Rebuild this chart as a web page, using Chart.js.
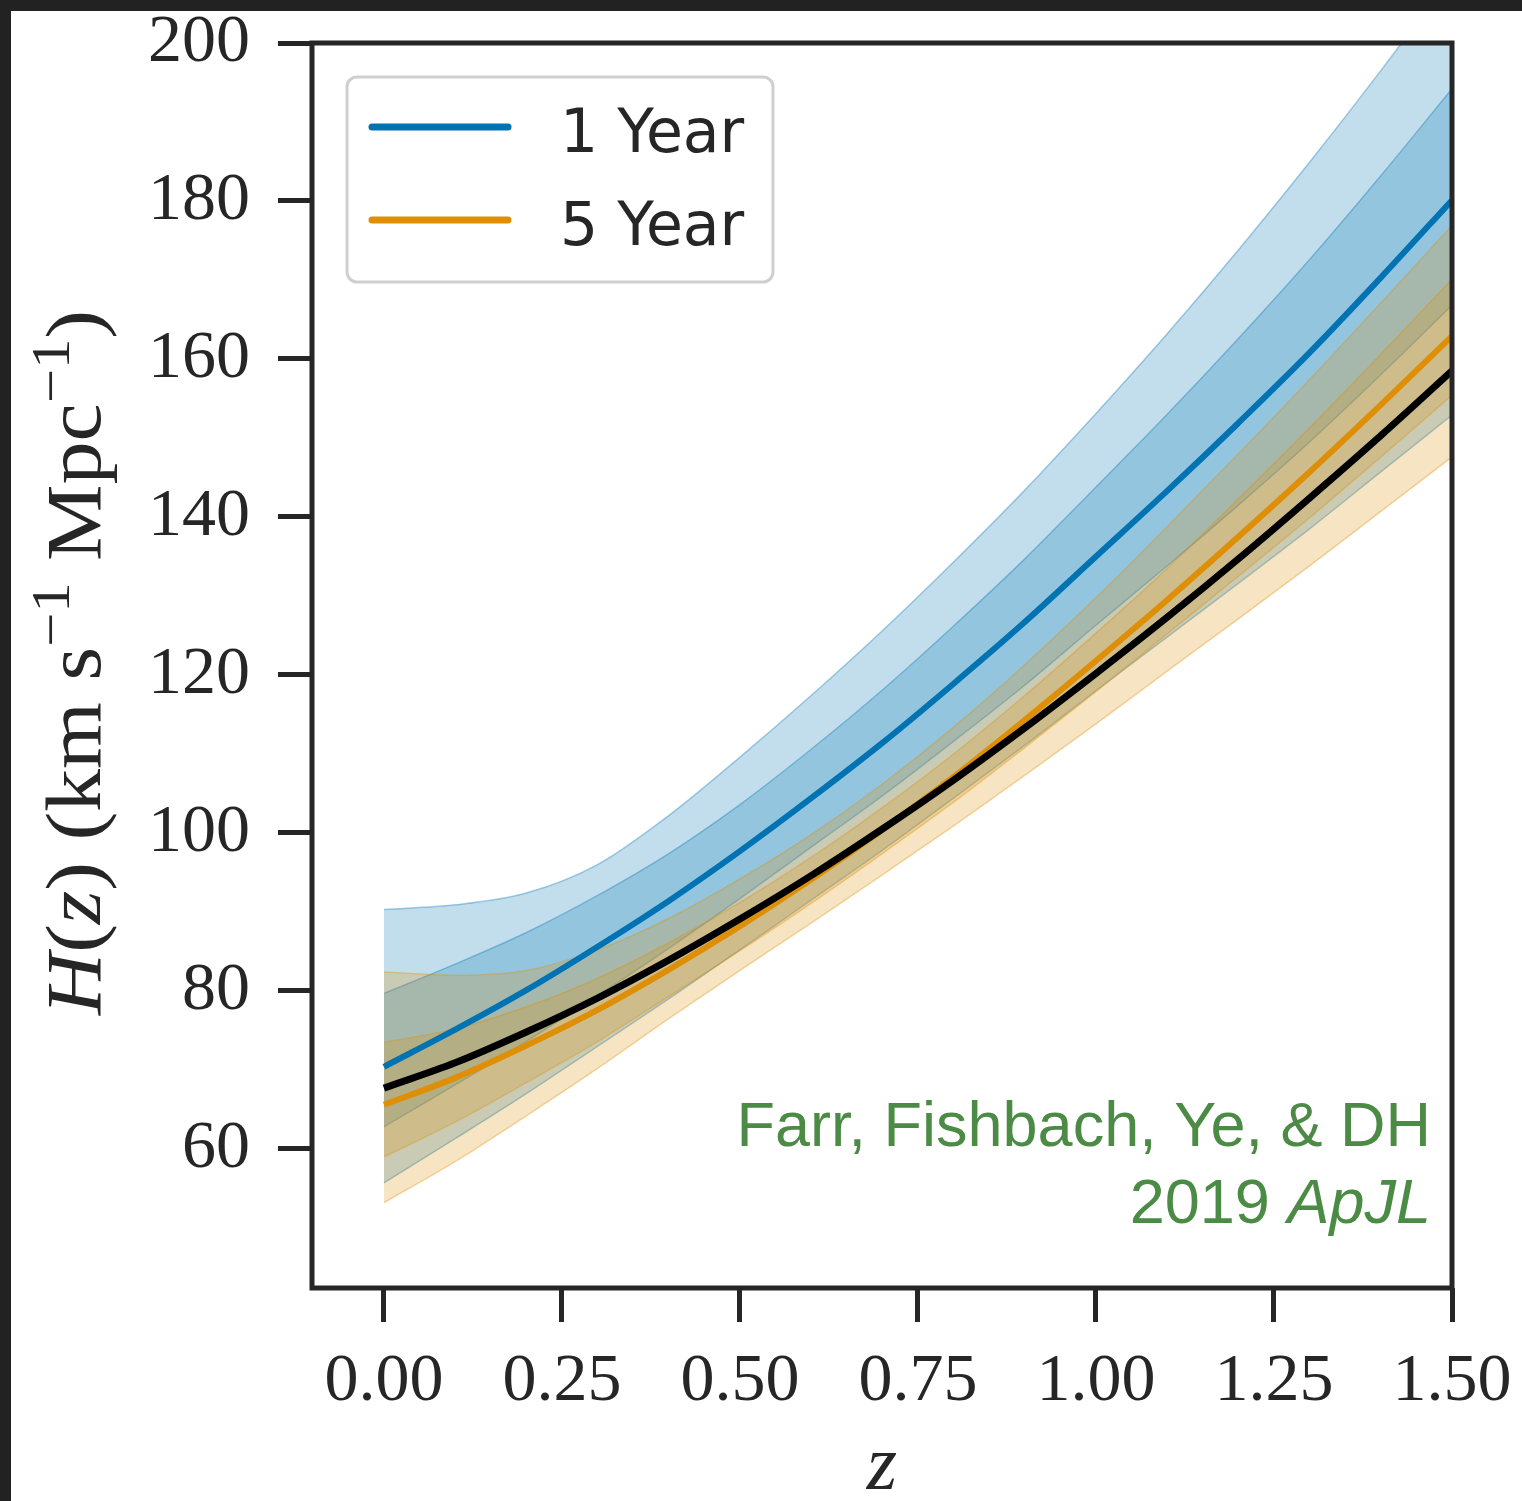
<!DOCTYPE html>
<html>
<head>
<meta charset="utf-8">
<title>H(z) forecast</title>
<script src="https://cdn.jsdelivr.net/npm/chart.js@4.4.1/dist/chart.umd.min.js"></script>
<style>
  html, body { margin: 0; padding: 0; background: #222; }
  #wrap { position: absolute; left: 11px; top: 11px; width: 1511px; height: 1490px; background: #fff; }
  canvas { display: block; }
</style>
</head>
<body>
<div id="wrap"><canvas id="hzChart" width="1511" height="1490"></canvas></div>
<script>
/* H(z) posterior bands for the 1 year and 5 year runs, plus the true curve */

const Z_VALUES = [0, 0.1, 0.2, 0.3, 0.4, 0.5, 0.6, 0.7, 0.8, 0.9, 1.0, 1.1, 1.2, 1.3, 1.4, 1.5];

const TRUTH = [67.7, 70.9, 74.8, 79.1, 83.9, 89.1, 94.6, 100.5, 106.7, 113.3, 120.2, 127.3, 134.7, 142.4, 150.3, 158.5];

const ONE_YEAR_MEDIAN  = [70.4, 75.1, 80.1, 85.6, 91.4, 97.7, 104.4, 111.4, 118.9, 126.7, 135.0, 143.3, 151.9, 160.8, 170.3, 180.1];
const ONE_YEAR_IN_LO   = [62.8, 68.1, 73.6, 79.4, 85.4, 91.7, 98.2, 104.7, 111.6, 118.7, 126.3, 133.8, 141.5, 149.5, 158.0, 166.8];
const ONE_YEAR_IN_HI   = [79.7, 83.4, 87.4, 92.1, 97.4, 103.6, 110.6, 118.1, 126.2, 134.7, 143.8, 153.0, 162.6, 172.6, 183.2, 194.2];
const ONE_YEAR_OUT_LO  = [55.7, 61.3, 67.0, 73.0, 79.0, 85.2, 91.5, 97.8, 104.4, 111.1, 118.0, 124.8, 131.6, 138.5, 145.7, 152.9];
const ONE_YEAR_OUT_HI  = [90.3, 90.9, 92.4, 96.0, 102.2, 109.6, 117.4, 125.6, 134.3, 143.4, 153.1, 163.2, 173.8, 184.9, 196.5, 208.6];

const FIVE_YEAR_MEDIAN = [65.6, 69.0, 73.1, 77.6, 82.7, 88.2, 94.1, 100.4, 107.1, 114.3, 121.8, 129.5, 137.5, 145.7, 154.2, 162.9];
const FIVE_YEAR_IN_LO  = [59.0, 63.4, 68.4, 73.6, 79.3, 85.1, 91.1, 97.4, 103.9, 110.8, 117.9, 125.2, 132.5, 139.9, 147.6, 155.4];
const FIVE_YEAR_IN_HI  = [73.5, 75.2, 78.0, 81.6, 86.1, 91.2, 96.9, 103.2, 110.0, 117.4, 125.3, 133.5, 142.3, 151.3, 160.6, 170.1];
const FIVE_YEAR_OUT_LO = [53.2, 58.4, 64.2, 70.2, 76.5, 82.6, 88.6, 94.7, 100.9, 107.3, 113.8, 120.5, 127.1, 133.8, 140.7, 147.6];
const FIVE_YEAR_OUT_HI = [82.4, 82.0, 82.6, 85.2, 89.2, 94.2, 99.8, 106.2, 113.4, 121.3, 129.8, 138.8, 148.0, 157.4, 167.1, 176.9];

const X_TICKS = [0, 0.25, 0.5, 0.75, 1.0, 1.25, 1.5];
const Y_TICKS = [60, 80, 100, 120, 140, 160, 180, 200];

const SERIES_LABELS = ['1 Year', '5 Year'];
const BLUE = '1,115,178';
const ORANGE = '222,143,5';
const INK = '#262626';
const NOTE_GREEN = '#4c8b45';

function toPoints(values) {
  return values.map((y, i) => ({ x: Z_VALUES[i], y }));
}

// two datasets: lower edge, then upper edge filled down to it
function band(lo, hi, rgb, order) {
  const edge = `rgba(${rgb},0.35)`;
  const common = { pointRadius: 0, borderWidth: 1.5, borderColor: edge, cubicInterpolationMode: 'monotone' };
  return [
    { ...common, data: toPoints(lo), fill: false, order: order },
    { ...common, data: toPoints(hi), fill: '-1', backgroundColor: `rgba(${rgb},0.24)`, order: order - 1 }
  ];
}

function medianLine(values, color, width, order, label) {
  return {
    label, data: toPoints(values), borderColor: color, borderWidth: width,
    pointRadius: 0, fill: false, cubicInterpolationMode: 'monotone', order
  };
}

const framePlugin = {
  id: 'frame',
  afterDatasetsDraw(chart) {
    const { ctx, chartArea: a } = chart;
    ctx.save();
    ctx.strokeStyle = INK;
    ctx.lineWidth = 5;
    ctx.strokeRect(a.left, a.top, a.right - a.left, a.bottom - a.top);
    ctx.restore();
  }
};

const legendPlugin = {
  id: 'boxLegend',
  afterDraw(chart) {
    const { ctx } = chart;
    ctx.save();
    ctx.beginPath();
    ctx.roundRect(336, 66, 426, 205, 10);
    ctx.fillStyle = 'rgba(255,255,255,0.85)';
    ctx.fill();
    ctx.strokeStyle = '#cfcfcf';
    ctx.lineWidth = 3;
    ctx.stroke();
    const colors = [`rgb(${BLUE})`, `rgb(${ORANGE})`];
    ctx.font = '60px "DejaVu Sans"';
    ctx.textBaseline = 'alphabetic';
    ctx.fillStyle = INK;
    SERIES_LABELS.forEach((label, i) => {
      const y = 116 + i * 93;
      ctx.beginPath();
      ctx.moveTo(361, y);
      ctx.lineTo(497, y);
      ctx.strokeStyle = colors[i];
      ctx.lineWidth = 7;
      ctx.lineCap = 'round';
      ctx.stroke();
      ctx.fillText(label, 549, y + 25);
    });
    ctx.restore();
  }
};

const notePlugin = {
  id: 'note',
  afterDraw(chart) {
    const { ctx } = chart;
    const right = 1420;
    ctx.save();
    ctx.fillStyle = NOTE_GREEN;
    ctx.textAlign = 'right';
    ctx.textBaseline = 'alphabetic';
    ctx.font = '63px "Liberation Sans"';
    ctx.fillText('Farr, Fishbach, Ye, & DH', right, 1135);
    ctx.font = 'italic 63px "Liberation Sans"';
    const w = ctx.measureText('ApJL').width;
    ctx.fillText('ApJL', right, 1212);
    ctx.font = '63px "Liberation Sans"';
    ctx.fillText('2019 ', right - w, 1212);
    ctx.restore();
  }
};

// axis titles with italic symbols and superscripts
const axisTitlePlugin = {
  id: 'axisTitles',
  afterDraw(chart) {
    const { ctx } = chart;
    const size = 78;
    const sup = Math.round(size * 0.7);
    const parts = [
      { t: 'H', it: true }, { t: '(' }, { t: 'z', it: true }, { t: ')' },
      { t: ' (km s' }, { t: '\u22121', sup: true }, { t: ' Mpc' }, { t: '\u22121', sup: true }, { t: ')' }
    ];
    const fontOf = p => `${p.it ? 'italic ' : ''}${p.sup ? sup : size}px "Liberation Serif"`;
    let total = 0;
    parts.forEach(p => { ctx.font = fontOf(p); p.w = ctx.measureText(p.t).width; total += p.w; });
    const stretch = 705 / total;

    ctx.save();
    ctx.fillStyle = INK;
    ctx.textBaseline = 'alphabetic';
    ctx.translate(89, 1004);
    ctx.rotate(-Math.PI / 2);
    ctx.scale(stretch, 1);
    let x = 0;
    parts.forEach(p => {
      ctx.font = fontOf(p);
      ctx.fillText(p.t, x, p.sup ? -size * 0.4 : 0);
      x += p.w;
    });
    ctx.restore();

    const xs = chart.scales.x;
    ctx.save();
    ctx.fillStyle = INK;
    ctx.font = `italic ${size}px "Liberation Serif"`;
    ctx.textAlign = 'center';
    ctx.textBaseline = 'alphabetic';
    ctx.fillText('z', (xs.left + xs.right) / 2, 1478);
    ctx.restore();
  }
};

const datasets = [
  ...band(ONE_YEAR_OUT_LO, ONE_YEAR_OUT_HI, BLUE, 20),
  ...band(ONE_YEAR_IN_LO, ONE_YEAR_IN_HI, BLUE, 18),
  ...band(FIVE_YEAR_OUT_LO, FIVE_YEAR_OUT_HI, ORANGE, 16),
  ...band(FIVE_YEAR_IN_LO, FIVE_YEAR_IN_HI, ORANGE, 14),
  medianLine(ONE_YEAR_MEDIAN, `rgb(${BLUE})`, 6, 3, SERIES_LABELS[0]),
  medianLine(FIVE_YEAR_MEDIAN, `rgb(${ORANGE})`, 6, 2, SERIES_LABELS[1]),
  medianLine(TRUTH, '#000000', 7, 1, 'Truth')
];

const tickGrid = { drawOnChartArea: false, drawTicks: true, tickLength: 34, tickWidth: 5, tickColor: INK };

new Chart(document.getElementById('hzChart'), {
  type: 'line',
  data: { datasets },
  options: {
    responsive: false,
    animation: false,
    devicePixelRatio: 1,
    layout: { padding: { top: 32, right: 70, left: 0, bottom: 0 } },
    plugins: { legend: { display: false }, tooltip: { enabled: false } },
    scales: {
      x: {
        type: 'linear', min: -0.101, max: 1.5,
        grid: tickGrid,
        border: { display: false },
        afterBuildTicks: s => { s.ticks = X_TICKS.map(v => ({ value: v })); },
        afterFit: s => { s.height = 213; s.paddingLeft = 0; s.paddingRight = 0; },
        ticks: {
          autoSkip: false, maxRotation: 0, minRotation: 0, padding: 19, color: INK,
          font: { family: 'Liberation Serif', size: 68 },
          callback: v => Number(v).toFixed(2)
        }
      },
      y: {
        type: 'linear', min: 42.4, max: 200,
        grid: tickGrid,
        border: { display: false },
        afterBuildTicks: s => { s.ticks = Y_TICKS.map(v => ({ value: v })); },
        afterFit: s => { s.width = 301; s.paddingTop = 0; s.paddingBottom = 0; },
        ticks: {
          autoSkip: false, padding: 28, color: INK,
          font: { family: 'Liberation Serif', size: 68, lineHeight: 0.9 },
          callback: v => String(v)
        }
      }
    }
  },
  plugins: [framePlugin, legendPlugin, notePlugin, axisTitlePlugin]
});
</script>
</body>
</html>
